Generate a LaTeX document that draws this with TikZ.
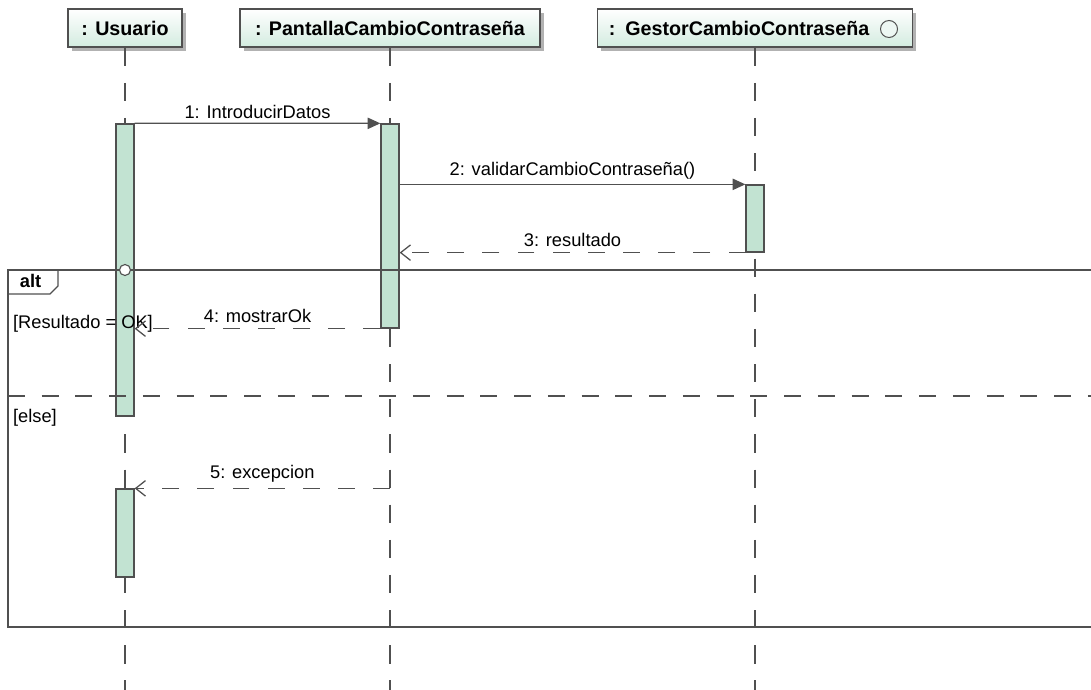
\documentclass[tikz,border=0pt]{standalone}
\usepackage{fontspec}
\setmainfont{Liberation Sans}
\usetikzlibrary{arrows.meta,positioning,calc,shadows}
\usepackage{xcolor}
\definecolor{actfill}{HTML}{C2E3D2}
\definecolor{headfill}{HTML}{D3ECE0}
\definecolor{ink}{HTML}{505050}

\begin{document}
\begin{tikzpicture}[x=0.025cm, y=-0.025cm,
  head/.style={draw=ink, line width=0.9pt, top color=white, bottom color=headfill,
    minimum height=0.95cm, inner sep=0pt, font=\fontsize{14}{16}\selectfont\bfseries,
    drop shadow={shadow xshift=2.8pt, shadow yshift=-2.8pt, fill=black!30, opacity=1}},
  act/.style={draw=ink, line width=0.9pt, fill=actfill, minimum width=0.45cm, inner sep=0pt},
  life/.style={draw=ink, line width=0.9pt, dash pattern=on 13pt off 12pt},
  call/.style={draw=ink, line width=0.9pt, -{Triangle[length=9pt, width=8pt]}},
  reply/.style={draw=ink, line width=0.9pt, dash pattern=on 12pt off 13pt,
    -{Straight Barb[length=7pt, width=11pt]}},
  lbl/.style={font=\fontsize{13}{15}\selectfont, text=black, inner sep=2pt},
  frame/.style={draw=ink, line width=1pt}
]
  \useasboundingbox (0,0) rectangle (1091,690);

  % Heads
  \node[head, minimum width=2.85cm] (usuario) at (125,28) {: Usuario};
  \node[head, minimum width=7.5cm] (pantalla) at (390,28) {: PantallaCambioContraseña};
  \node[head, minimum width=7.875cm, text width=7.3cm] (gestor) at (755,28) {: GestorCambioContraseña};
  \draw[ink, line width=0.7pt, fill=headfill!40] (889,29) circle (8.5);

  % Lifelines
  \draw[life] (usuario.south) -- (usuario.south |- 0,690);
  \draw[life] (pantalla.south) -- (pantalla.south |- 0,690);
  \draw[life] (gestor.south) -- (gestor.south |- 0,690);

  % Activations
  \node[act, minimum height=7.3cm] (a1) at (125,270) {};
  \node[act, minimum height=5.1cm] (a2) at (390,226) {};
  \node[act, minimum height=1.675cm] (a3) at (755,218.5) {};
  \node[act, minimum height=2.2cm] (a4) at (125,533) {};

  % Combined fragment
  \coordinate (fr-nw) at (8,270);
  \coordinate (fr-se) at (1100,627);
  \draw[frame] (fr-nw) rectangle (fr-se);
  \draw[frame] (fr-nw |- 0,294) -- (50,294) -- (58,286) -- (58,270);
  \node[font=\fontsize{13}{15}\selectfont\bfseries, anchor=west] (altlbl) at (15,281) {alt};
  \draw[life, dash pattern=on 12pt off 12pt] (fr-nw |- 0,396) -- (fr-se |- 0,396);
  \draw[ink, line width=0.8pt, fill=white] (a1 |- fr-nw) circle (5.5);
  \node[lbl, anchor=west] (g1) at (10,324) {[Resultado = OK]};
  \node[lbl, anchor=west] (g2) at (10,418) {[else]};

  % Messages
  \draw[call] (a1.north east) -- (a2.north west)
    node[lbl, midway, above=1pt] {1:  IntroducirDatos};
  \draw[call] (a2.east |- a3.north) -- (a3.north west)
    node[lbl, midway, above=1pt] {2:  validarCambioContraseña()};
  \draw[reply] (a3.south west) -- (a2.east |- a3.south)
    node[lbl, midway, above=2pt] {3:  resultado};
  \draw[reply] (a2.south west) -- (a1.east |- a2.south)
    node[lbl, midway, above=2pt] {4:  mostrarOk};
  \draw[reply] (pantalla |- a4.north) -- (a4.north east)
    node[lbl, midway, above=2pt] {5:  excepcion};
\end{tikzpicture}
\end{document}
